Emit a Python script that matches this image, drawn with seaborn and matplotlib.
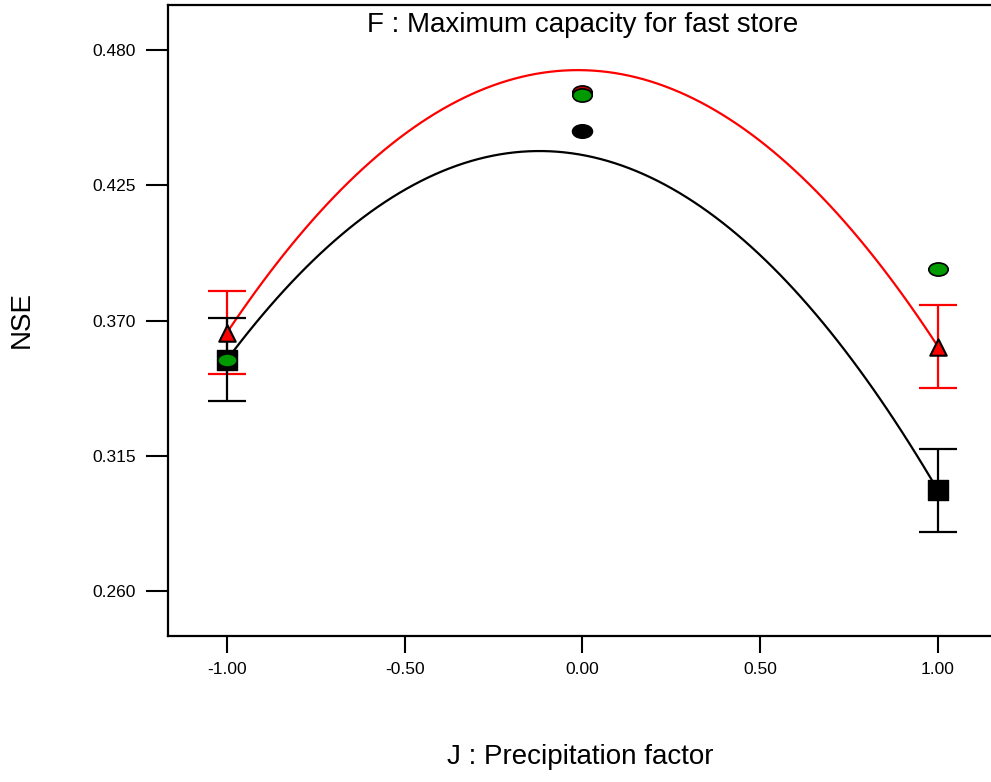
import numpy as np
import pandas as pd
import matplotlib
matplotlib.use("Agg")
import matplotlib.pyplot as plt
from matplotlib.path import Path
from matplotlib.transforms import Affine2D
import seaborn as sns

sns.set_style("white")
plt.rcParams['font.family'] = ['Liberation Sans', 'DejaVu Sans']
plt.rcParams['text.color'] = 'black'
plt.rcParams['axes.labelcolor'] = 'black'
plt.rcParams['xtick.color'] = 'black'
plt.rcParams['ytick.color'] = 'black'

# design points (J : Precipitation factor)
levels = [-1.0, 0.0, 1.0]

# model predictions along the fitted curves
red_pred = [0.3651, 0.4718, 0.3594]
black_pred = [0.3541, 0.4373, 0.3009]
half_ci = 0.0169

# observed runs
green_obs = [0.3541, 0.4617, 0.3909]
red_obs_x = [0.0]
red_obs = [0.4630]
black_obs_x = [0.0]
black_obs = [0.4471]

xticks = [-1.0, -0.5, 0.0, 0.5, 1.0]
yticks = [0.260, 0.315, 0.370, 0.425, 0.480]

df = pd.DataFrame({"J": levels, "red": red_pred, "black": black_pred, "green": green_obs})

# flattened circle used for the observed points
oval = Path.unit_circle().transformed(Affine2D().scale(1.0, 0.68))

fig = plt.figure(figsize=(9.91, 7.82), dpi=100)
ax = fig.add_axes([168 / 991, 146 / 782, 824 / 991, 631 / 782])

sns.regplot(x="J", y="red", data=df, order=2, ci=None, scatter=False,
            line_kws=dict(color="red", lw=1.6), ax=ax)
sns.regplot(x="J", y="black", data=df, order=2, ci=None, scatter=False,
            line_kws=dict(color="black", lw=1.6), ax=ax)

ends = df.iloc[[0, 2]]
ax.errorbar(ends["J"], ends["red"], yerr=half_ci, fmt="none", ecolor="red",
            elinewidth=1.6, capsize=13.5, capthick=1.6, zorder=3)
ax.errorbar(ends["J"], ends["black"], yerr=half_ci, fmt="none", ecolor="black",
            elinewidth=1.6, capsize=13.5, capthick=1.6, zorder=3)

sns.scatterplot(x=ends["J"], y=ends["black"], marker="s", s=200, color="black",
                edgecolor="black", linewidth=1, zorder=4, ax=ax)
sns.scatterplot(x=ends["J"], y=ends["red"], marker="^", s=140, color="red",
                edgecolor="black", linewidth=1.5, zorder=5, ax=ax)
sns.scatterplot(x=black_obs_x, y=black_obs, marker=oval, s=210, color="black",
                edgecolor="black", linewidth=1, zorder=5, ax=ax)
sns.scatterplot(x=red_obs_x, y=red_obs, marker=oval, s=195, color="#cc0000",
                edgecolor="black", linewidth=1.2, zorder=5, ax=ax)
sns.scatterplot(x="J", y="green", data=df, marker=oval, s=195, color="#009900",
                edgecolor="black", linewidth=1.2, zorder=6, ax=ax)

ax.set_xlim(-1.166, 1.152)
ax.set_ylim(0.2417, 0.4983)
ax.set_xticks(xticks)
ax.set_xticklabels([f"{v:.2f}" for v in xticks])
ax.set_yticks(yticks)
ax.set_yticklabels([f"{v:.3f}" for v in yticks])
ax.tick_params(axis="x", direction="out", length=12, width=1.5, labelsize=12.5, pad=7, bottom=True)
ax.tick_params(axis="y", direction="out", length=16, width=1.5, labelsize=12.5, pad=7, left=True)

for side in ["left", "bottom", "top"]:
    ax.spines[side].set_color("black")
    ax.spines[side].set_linewidth(1.6)
ax.spines["right"].set_visible(False)

ax.set_xlabel("J : Precipitation factor", fontsize=20)
ax.xaxis.set_label_coords(0.5, -0.171)
ax.set_ylabel("NSE", fontsize=20)
ax.yaxis.set_label_coords(-0.162, 0.502)
ax.text(0.0, 0.4873, "F : Maximum capacity for fast store", ha="center", va="baseline",
        fontsize=20)

fig.savefig("out.png", dpi=100)
